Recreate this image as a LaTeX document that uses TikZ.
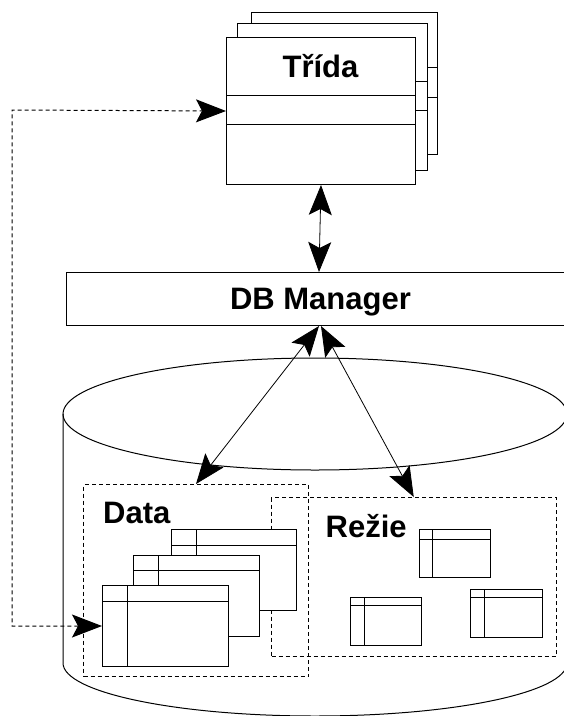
\documentclass[tikz,border=0pt]{standalone}
\usepackage{fontspec}
\setmainfont{Liberation Sans}
\usetikzlibrary{arrows.meta,positioning}

\tikzset{
  box/.style={draw, fill=white, line width=1pt, inner sep=0pt, anchor=north west},
  area/.style={draw, dash pattern=on 4pt off 3pt, line width=1pt, inner sep=0pt, anchor=north west},
  title/.style={font=\fontsize{31}{31}\selectfont\bfseries, inner sep=0pt},
  >={Stealth[length=30pt,width=23pt,inset=6pt]}
}

% class: name, x, y, width, height, first and second divider
\newcommand{\classbox}[7]{%
  \node[box, minimum width=#4pt, minimum height=#5pt] (#1) at (#2,#3) {};
  \draw[line width=1pt] ([yshift=-#6pt]#1.north west) -- ([yshift=-#6pt]#1.north east);
  \draw[line width=1pt] ([yshift=-#7pt]#1.north west) -- ([yshift=-#7pt]#1.north east);
}
% table: name, x, y, width, height, header, column
\newcommand{\tablebox}[7]{%
  \node[box, minimum width=#4pt, minimum height=#5pt] (#1) at (#2,#3) {};
  \draw[line width=1pt] ([yshift=-#6pt]#1.north west) -- ([yshift=-#6pt]#1.north east);
  \draw[line width=1pt] ([xshift=#7pt]#1.north west) -- ([xshift=#7pt]#1.south west);
}

\begin{document}
\begin{tikzpicture}[x=1pt, y=-1pt]
  \useasboundingbox (0,0) rectangle (564,716);

  % database
  \draw[line width=1pt] (63,414) -- (63,663) arc[start angle=180, end angle=0, x radius=252, y radius=53] -- (567,414);
  \draw[line width=1pt] (315,414) ellipse [x radius=252, y radius=56];

  % classes
  \classbox{trida3}{251}{12}{186}{142}{55}{85}
  \classbox{trida2}{237}{23}{190}{147}{58}{87}
  \classbox{trida}{226}{37}{189}{147}{58}{87}
  \node[title, anchor=base] (tridalbl) at (320.5,77) {Třída};

  % manager
  \node[box, minimum width=509pt, minimum height=53pt] (db) at (66,272) {};
  \node[title, anchor=base] (dblbl) at (320.5,309) {DB Manager};

  % data and overhead
  \node[area, minimum width=225pt, minimum height=192pt] (data) at (83,484) {};
  \node[area, minimum width=284.5pt, minimum height=159pt] (rezie) at (271,497) {};
  \node[title, anchor=base west] (datalbl) at (103,523) {Data};
  \node[title, anchor=base west] (rezielbl) at (325.5,537) {Režie};

  \tablebox{dt3}{171}{529}{125}{81}{16}{25}
  \tablebox{dt2}{133}{555}{126}{81}{15.5}{25.5}
  \tablebox{dt1}{102}{585}{126}{81}{16}{25}

  \tablebox{rt1}{419}{529}{71}{48}{10}{13.5}
  \tablebox{rt2}{350}{597}{71}{47.5}{8}{14}
  \tablebox{rt3}{470}{589}{71.5}{47.5}{8}{14}

  % connections
  \coordinate (corner) at (12,110);
  \draw[<->, dash pattern=on 4pt off 3pt, line width=1pt] (dt1.west) -| (corner) -- (trida.west);
  \draw[<->, line width=0.8pt] (trida.south) -- ([xshift=-2pt]db.north);
  \draw[<->, line width=0.8pt] ([xshift=-2pt]db.south) -- (data.north);
  \draw[<->, line width=0.8pt] (db.south) -- (rezie.north);
\end{tikzpicture}
\end{document}
